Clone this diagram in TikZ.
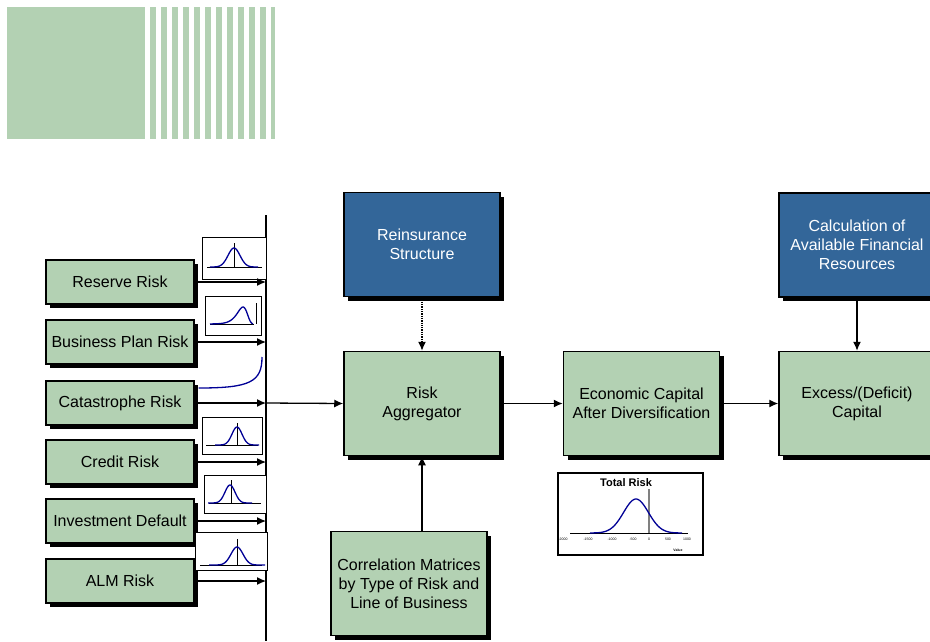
\documentclass[tikz,border=0pt]{standalone}
\usepackage{fontspec}
\setmainfont{Liberation Sans}
\usepackage{tikz}
\usetikzlibrary{arrows.meta}
\usetikzlibrary{shadows}

\definecolor{riskgreen}{RGB}{179,209,179}
\definecolor{riskblue}{RGB}{51,102,153}
\definecolor{curveblue}{RGB}{0,0,150}

% bell curve: mean x, baseline y, sigma, height, half range
\newcommand{\bell}[5]{\draw[curve] plot[domain=-#5:#5, samples=60, smooth] ({#1+\x},{#2-#4*exp(-(\x*\x)/(2*#3*#3))});}

\begin{document}
\begin{tikzpicture}[x=1pt,y=-1pt]
			\tikzset{riskbox/.style = {shape=rectangle,draw,line width=1.2pt,fill=riskgreen,minimum width=148pt,minimum height=44pt,font=\fontsize{16}{19}\selectfont,drop shadow={shadow xshift=4pt,shadow yshift=-4pt,fill=black,opacity=1}}}
			\tikzset{mainbox/.style = {riskbox,line width=1.5pt,minimum width=156pt,minimum height=104pt,align=center,font=\fontsize{16}{19}\selectfont}}
			\tikzset{bluebox/.style = {mainbox,fill=riskblue,text=white}}
			\tikzset{chart/.style = {shape=rectangle,draw,line width=0.8pt,fill=white,inner sep=0pt}}
			\tikzset{axis/.style = {line width=0.6pt}}
			\tikzset{curve/.style = {curveblue,line width=1.3pt}}
			\tikzset{edge/.style = {->,> = {Latex[length=9pt,width=8pt]},line width=1.3pt}}
			\useasboundingbox (0,0) rectangle (930,641);
			\clip (0,0) rectangle (930,641);
			% banner
			\fill[riskgreen] (7,7) rectangle (145,139);
			\foreach \i in {0,...,10}
				\fill[riskgreen] ({150+11*\i},7) rectangle ({156+11*\i},139);
			\fill[riskgreen] (271,7) rectangle (275,139);
			% risk sources
			\node[riskbox] (reserve) at (120,282) {Reserve Risk};
			\node[riskbox] (busplan) at (120,342) {Business Plan Risk};
			\node[riskbox] (cat) at (120,403) {Catastrophe Risk};
			\node[riskbox] (credit) at (120,462) {Credit Risk};
			\node[riskbox] (invest) at (120,521) {Investment Default};
			\node[riskbox] (alm) at (120,581) {ALM Risk};
			% main blocks
			\node[bluebox] (reins) at (422,244.5) {Reinsurance\\Structure};
			\node[mainbox] (agg) at (422,403.5) {Risk\\Aggregator};
			\node[mainbox] (econ) at (641.5,403.5) {Economic Capital\\After Diversification};
			\node[bluebox] (afr) at (857,245) {Calculation of\\Available Financial\\Resources};
			\node[mainbox] (excess) at (857,403.5) {Excess/(Deficit)\\Capital};
			\node[mainbox] (corr) at (409,583.5) {Correlation Matrices\\by Type of Risk and\\Line of Business};
			% collecting line
			\coordinate (bustop) at (266,215);
			\coordinate (busbot) at (266,641);
			\draw[line width=1.2pt] (bustop) -- (busbot);
			% small charts
			\node[chart,minimum width=64pt,minimum height=42pt] (reservechart) at (234,258) {};
			\draw[axis] (207,267) -- (262,267);
			\draw[axis] (234,243) -- (234,267);
			\bell{234}{267}{6}{19}{24}
			\node[chart,minimum width=56pt,minimum height=39pt] (busplanchart) at (233,315.5) {};
			\draw[axis] (210,324) -- (254,324);
			\draw[axis] (256,303) -- (256,324);
			\draw[curve] plot[domain=-33:10, samples=60, smooth] ({243+\x},{324-17*exp(1+\x/5-exp(\x/5))});
			\draw[curve] (cat.east) ++(4,-15) .. controls (250,388) and (262,382) .. (262,357);
			\node[chart,minimum width=60pt,minimum height=37pt] (creditchart) at (232,435.5) {};
			\draw[axis] (206,445) -- (258,445);
			\draw[axis] (237,423) -- (237,445);
			\bell{237}{445}{5}{18}{22}
			\node[chart,minimum width=62pt,minimum height=38pt] (investchart) at (235,494) {};
			\draw[axis] (209,503) -- (261,503);
			\draw[axis] (231,480) -- (231,503);
			\bell{230}{503}{5}{18}{22}
			\node[chart,minimum width=72pt,minimum height=38pt] (almchart) at (231,551) {};
			\draw[axis] (200,565) -- (262,565);
			\draw[axis] (237,539) -- (237,565);
			\bell{237}{565}{6}{18}{28}
			% total risk chart
			\node[chart,line width=1.2pt,minimum width=145pt,minimum height=82pt] (totalchart) at (630.5,514) {};
			\node[font=\bfseries\fontsize{11}{12}\selectfont] (totaltitle) at (626,483) {Total Risk};
			\draw[axis] (570,533) -- (688,533);
			\draw[gray,line width=1.5pt] (649,489) -- (649,533);
			\bell{636}{533}{12.4}{34}{46}
			\foreach \lx/\lt in {563/-2000,588/-1500,612/-1000,633/-500,649/0,668/500,687/1000}
				\node[font=\fontsize{3.5}{4}\selectfont,inner sep=0pt] at (\lx,539) {\lt};
			\node[font=\bfseries\fontsize{3.5}{4}\selectfont,inner sep=0pt] (valuelabel) at (678,550) {Value};
			% edges
			\draw[edge] (reserve.east) -- (reserve.east -| bustop);
			\draw[edge] (busplan.east) -- (busplan.east -| bustop);
			\draw[edge] (cat.east) -- (cat.east -| bustop);
			\draw[edge] (credit.east) -- (credit.east -| bustop);
			\draw[edge] (invest.east) -- (invest.east -| bustop);
			\draw[edge] (alm.east) -- (alm.east -| bustop);
			\draw[edge] (cat.east -| bustop) -- (agg.west);
			\draw[edge,densely dotted] (reins.south) -- (agg.north);
			\draw[edge] (corr.north -| agg.south) -- (agg.south);
			\draw[edge] (agg.east) -- (econ.west);
			\draw[edge] (econ.east) -- (excess.west);
			\draw[edge] (afr.south) -- (excess.north);
		\end{tikzpicture}
\end{document}
